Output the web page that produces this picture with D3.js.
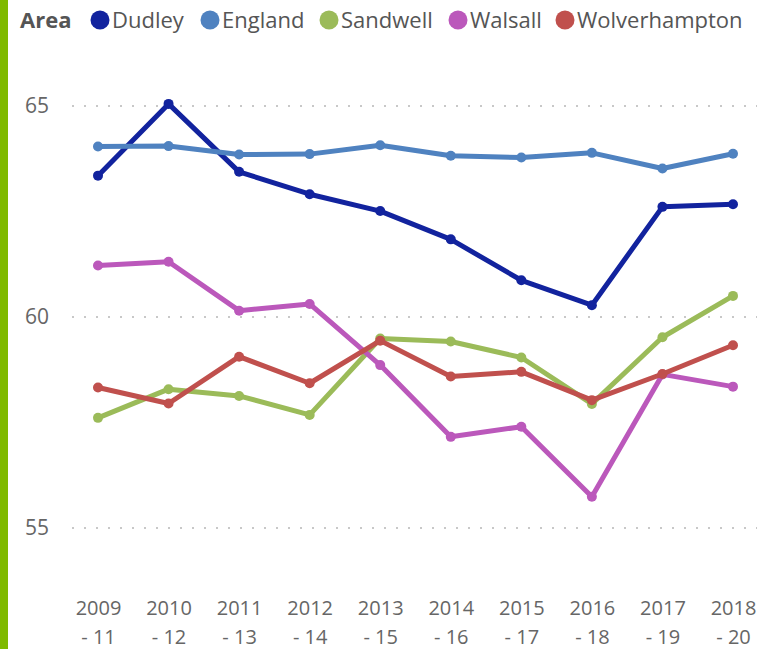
<!DOCTYPE html>
<html>
<head>
<meta charset="utf-8">
<script src="https://cdn.jsdelivr.net/npm/d3@7"></script>
<style>
  html, body { margin: 0; padding: 0; background: #fff; }
  svg { display: block; font-family: "Segoe UI", "Open Sans", "Noto Sans", sans-serif; }
</style>
</head>
<body>
<svg id="chart" width="757" height="649"></svg>
<script>
// Periods on the x axis, split into two label lines
const periodStart = ["2009", "2010", "2011", "2012", "2013", "2014", "2015", "2016", "2017", "2018"];
const periodEnd = ["- 11", "- 12", "- 13", "- 14", "- 15", "- 16", "- 17", "- 18", "- 19", "- 20"];

const areas = ["Dudley", "England", "Sandwell", "Walsall", "Wolverhampton"];
const areaColors = ["#12239E", "#4F82C0", "#9BBB59", "#BB58BB", "#C0504D"];

const dudley = [63.35, 65.05, 63.44, 62.91, 62.51, 61.84, 60.87, 60.28, 62.61, 62.67];
const england = [64.04, 64.05, 63.85, 63.86, 64.07, 63.82, 63.78, 63.89, 63.52, 63.87];
const sandwell = [57.61, 58.29, 58.13, 57.68, 59.49, 59.42, 59.04, 57.94, 59.52, 60.50];
const walsall = [61.22, 61.31, 60.15, 60.31, 58.86, 57.16, 57.40, 55.74, 58.64, 58.35];
const wolverhampton = [58.33, 57.95, 59.06, 58.43, 59.44, 58.59, 58.70, 58.03, 58.65, 59.33];

const yTicks = [55, 60, 65];

const seriesValues = [dudley, england, sandwell, walsall, wolverhampton];
const series = areas.map((name, i) => ({
  name,
  color: areaColors[i],
  points: periodStart.map((p, j) => ({ period: p, value: seriesValues[i][j] }))
}));

const fontStack = "\"Segoe UI\", \"Open Sans\", \"Noto Sans\", sans-serif";
const svg = d3.select("#chart");

// Accent bar down the left edge
svg.append("rect").attr("x", 0).attr("y", 0).attr("width", 8).attr("height", 649).attr("fill", "#7FBA00");

const x = d3.scalePoint().domain(periodStart).range([98, 733]);
const y = d3.scaleLinear().domain([55, 65]).range([528, 106]);

// Dotted horizontal gridlines
svg.append("g").selectAll("line").data(yTicks).join("line")
  .attr("x1", 72).attr("x2", 757)
  .attr("y1", d => y(d)).attr("y2", d => y(d))
  .attr("stroke", "#c8c8c8").attr("stroke-width", 2)
  .attr("stroke-dasharray", "2 10");

// Y axis labels
const yAxis = d3.axisLeft(y).tickValues(yTicks).tickSize(0).tickPadding(0);
const yg = svg.append("g").attr("transform", "translate(49,0)").call(yAxis);
yg.select(".domain").remove();
yg.selectAll("text").attr("fill", "#666").style("font-size", "21px").style("font-family", fontStack);

// X axis labels on two lines
const xAxis = d3.axisBottom(x).tickSize(0).tickFormat(() => "");
const xg = svg.append("g").attr("transform", "translate(0,596)").call(xAxis);
xg.select(".domain").remove();
xg.selectAll(".tick").each(function(d, i) {
  const t = d3.select(this).append("text").attr("fill", "#666").attr("text-anchor", "middle")
    .style("font-size", "20px").style("font-family", fontStack);
  t.append("tspan").attr("x", 0).attr("y", 19).text(periodStart[i]);
  t.append("tspan").attr("x", 0).attr("y", 48).text(periodEnd[i]);
});

// Lines and markers
const line = d3.line().x(d => x(d.period)).y(d => y(d.value));
const sg = svg.append("g").selectAll("g").data(series).join("g");
sg.append("path")
  .attr("d", d => line(d.points))
  .attr("fill", "none").attr("stroke", d => d.color)
  .attr("stroke-width", 5).attr("stroke-linejoin", "round").attr("stroke-linecap", "round");
sg.selectAll("circle").data(d => d.points.map(p => ({ ...p, color: d.color }))).join("circle")
  .attr("cx", d => x(d.period)).attr("cy", d => y(d.value)).attr("r", 5)
  .attr("fill", d => d.color);

// Legend
const legend = svg.append("g").attr("transform", "translate(0,20)");
legend.append("text").attr("x", 20).attr("y", 8).attr("fill", "#555")
  .style("font-size", "22px").style("font-weight", "bold").text("Area");
const legendX = [100, 210, 329, 458, 565];
areas.forEach((name, i) => {
  legend.append("circle").attr("cx", legendX[i]).attr("cy", 0).attr("r", 9.5).attr("fill", areaColors[i]);
  legend.append("text").attr("x", legendX[i] + 12).attr("y", 8).attr("fill", "#555")
    .style("font-size", "22px").text(name);
});
</script>
</body>
</html>
